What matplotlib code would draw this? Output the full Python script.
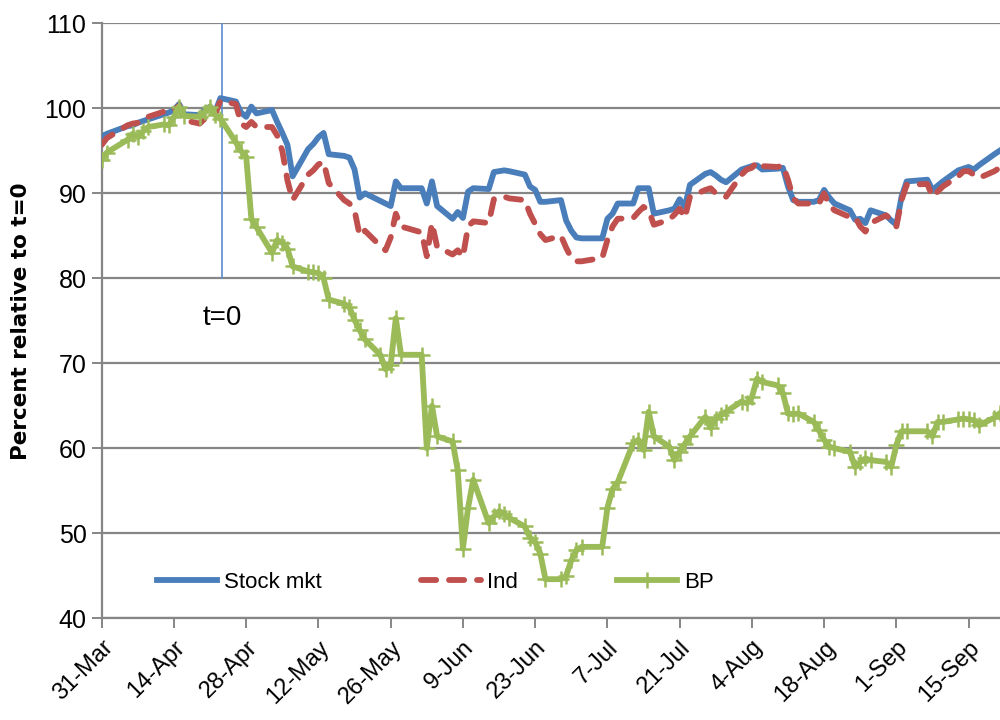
import matplotlib
matplotlib.use("Agg")
import matplotlib.pyplot as plt
import pandas as pd

# ---------------- data ----------------
holidays = ["2010-04-02", "2010-05-31", "2010-07-05", "2010-09-06"]
dates = pd.bdate_range("2010-03-31", "2010-09-21", freq="C", holidays=holidays)

stock_mkt = [96.7, 97.0, 97.9, 98.0, 98.3, 98.5, 98.7, 99.3, 99.5, 99.8, 100.5, 99.3,
             99.2, 99.8, 100.2, 99.6, 101.2, 100.8, 99.5, 99.0, 100.2, 99.4,
             99.8, 98.4, 97.1, 95.7, 92.0, 95.2, 95.8, 96.6, 97.1, 94.6,
             94.4, 94.2, 92.8, 89.5, 90.0, 89.1, 88.8, 88.5, 91.4, 90.6,
             90.6, 88.8, 91.4, 88.5, 87.0, 87.8, 87.1, 90.2, 90.6,
             90.5, 92.5, 92.6, 92.7, 92.6, 92.2, 90.8, 90.4, 89.0, 89.0,
             89.2, 86.8, 85.6, 84.8, 84.7, 84.7, 87.0, 87.6, 88.8,
             88.8, 90.6, 90.6, 90.6, 87.6, 88.0, 88.2, 89.3, 88.4, 91.0,
             92.3, 92.5, 92.1, 91.6, 91.3, 92.8, 93.0, 93.2, 93.3, 92.8,
             92.9, 93.0, 90.8, 89.2, 89.0, 89.0, 89.2, 90.4, 89.5, 88.8,
             88.0, 86.9, 87.0, 86.5, 88.0, 87.4, 86.8, 86.3, 89.6, 91.4,
             91.6, 90.4, 90.9, 91.4, 92.7, 92.9, 93.1, 92.8, 93.3, 94.6, 95.0]

ind = [95.7, 96.5, 98.0, 98.2, 98.3, 98.6, 99.0, 99.6, 99.5, 99.8, 100.3, 98.6,
       98.2, 98.8, 99.6, 99.3, 100.9, 100.5, 98.2, 97.8, 98.4, 97.8,
       97.8, 96.8, 95.0, 91.5, 89.2, 92.2, 92.7, 93.4, 93.7, 91.2,
       89.2, 88.8, 88.0, 85.0, 85.6, 83.8, 83.3, 84.8, 87.6, 86.1,
       85.4, 82.6, 86.5, 83.7, 82.8, 83.3, 82.5, 86.1, 86.7,
       86.5, 89.3, 89.6, 89.6, 89.4, 89.2, 87.6, 86.4, 85.2, 84.5,
       85.0, 83.6, 82.4, 82.0, 82.0, 82.4, 84.5, 86.1, 87.0,
       87.1, 87.8, 88.4, 88.0, 86.3, 86.9, 87.5, 88.2, 87.1, 89.6,
       90.4, 90.6, 90.0, 89.7, 89.6, 92.2, 92.8, 93.0, 93.7, 93.2,
       93.1, 93.3, 91.6, 89.4, 88.8, 88.8, 88.8, 90.0, 88.6, 88.0,
       87.2, 87.2, 86.1, 85.5, 86.5, 87.4, 86.9, 86.1, 89.2, 91.0,
       91.1, 89.6, 90.2, 90.8, 92.0, 92.6, 92.6, 92.2, 91.8, 92.6, 93.0]

bp = [93.9, 94.8, 96.3, 97.0, 96.6, 97.3, 97.8, 98.1, 98.0, 99.0, 100.2, 99.1,
      99.0, 99.6, 100.2, 99.2, 98.8, 96.0, 95.0, 94.3, 87.0, 86.0,
      83.0, 84.5, 84.2, 83.5, 81.4, 80.8, 80.7, 80.6, 80.0, 77.5,
      77.0, 76.6, 75.1, 73.9, 72.8, 71.0, 69.3, 69.8, 75.3, 71.0,
      71.0, 60.0, 65.0, 61.4, 60.8, 57.4, 48.2, 53.0, 56.3,
      51.2, 52.0, 52.6, 52.3, 51.8, 50.8, 49.5, 49.0, 47.6, 44.6,
      44.6, 45.0, 46.8, 48.0, 48.4, 48.4, 53.0, 55.2, 56.0,
      60.6, 61.0, 59.8, 64.3, 61.4, 60.2, 58.6, 59.6, 60.5, 61.4,
      63.7, 62.4, 63.5, 63.9, 64.3, 65.5, 65.3, 66.0, 68.2, 67.8,
      67.4, 66.5, 64.1, 64.0, 64.1, 63.1, 62.1, 61.0, 60.2, 60.0,
      59.6, 57.8, 58.4, 58.8, 58.6, 58.4, 57.8, 60.4, 62.0, 62.0,
      62.0, 61.4, 63.1, 63.1, 63.4, 63.5, 63.4, 63.3, 62.7, 63.6, 64.1]

series_names = ["Stock mkt", "Ind", "BP"]
t0_date = pd.Timestamp("2010-04-23 08:00")
tick_dates = pd.date_range("2010-03-31", "2010-09-15", freq="14D")
tick_labels = [d.strftime("%-d-%b") for d in tick_dates]
y_ticks = [40, 50, 60, 70, 80, 90, 100, 110]

assert len(dates) == len(stock_mkt) == len(ind) == len(bp)

plt.rcParams["font.family"] = ["Liberation Sans", "DejaVu Sans"]

# ---------------- figure ----------------
fig = plt.figure(figsize=(10, 7.2), dpi=100)
ax = fig.add_axes([0.1017, 0.1413, 0.8983, 0.8263])

blue = "#4A7EBB"
red = "#C0504D"
green = "#9BBB59"
gridc = "#868686"

ax.plot(dates, stock_mkt, color=blue, lw=4.2, solid_joinstyle="round",
        label=series_names[0], zorder=3)
ax.plot(dates, ind, color=red, lw=4.2, dashes=(2.6, 2.2), dash_capstyle="round",
        label=series_names[1], zorder=4)
ax.plot(dates, bp, color=green, lw=4.2, marker="+", markersize=12, markeredgewidth=1.8,
        solid_joinstyle="round", label=series_names[2], zorder=5)

# t=0 line and label
ax.plot([t0_date, t0_date], [80, 110], color="#5B8BD0", lw=1.2, zorder=2)
ax.text(t0_date, 75.3, "t=0", ha="center", va="center", fontsize=20)

ax.set_ylim(40, 110)
ax.set_xlim(pd.Timestamp("2010-03-31"), pd.Timestamp("2010-09-21 02:00"))
ax.set_yticks(y_ticks)
ax.set_yticklabels([str(v) for v in y_ticks], fontsize=18)
ax.yaxis.grid(True, color=gridc, lw=1.6)
ax.set_axisbelow(True)

ax.set_xticks(tick_dates)
ax.set_xticklabels(tick_labels, rotation=45, ha="right", va="top",
                   rotation_mode="anchor", fontsize=17)

for s in ["top", "right"]:
    ax.spines[s].set_visible(False)
for s in ["left", "bottom"]:
    ax.spines[s].set_color(gridc)
    ax.spines[s].set_linewidth(1.6)
ax.tick_params(axis="both", direction="out", length=7, width=1.4, color=gridc)
ax.tick_params(axis="x", pad=6)
ax.tick_params(axis="y", pad=4)

ax.set_ylabel("Percent relative to t=0", fontsize=15.5, fontweight="bold",
              family=["DejaVu Sans"], labelpad=10)

leg = ax.legend(loc="lower left", bbox_to_anchor=(0.052, 0.028), ncol=3, frameon=False,
                fontsize=16, handlelength=2.7, handletextpad=0.3, columnspacing=4.45,
                borderaxespad=0.0)

fig.savefig("out.png", dpi=100)
